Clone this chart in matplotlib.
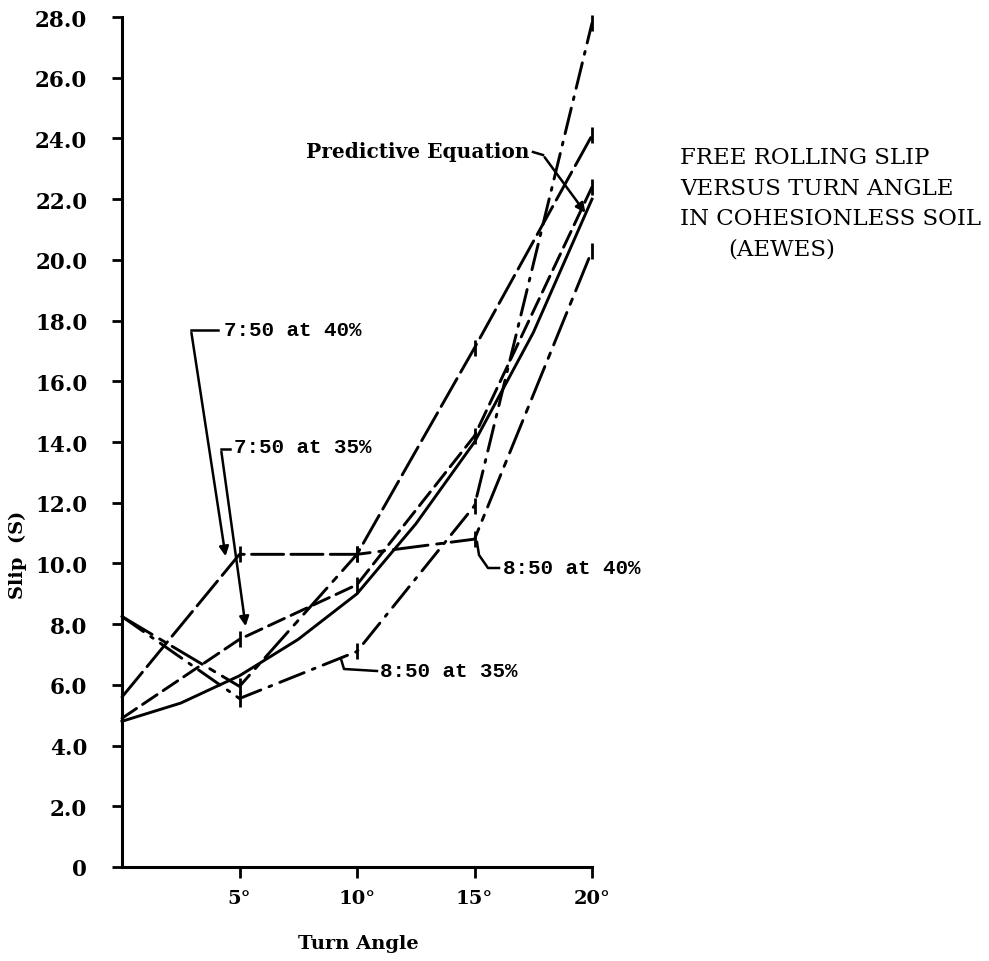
import matplotlib
matplotlib.use("Agg")
import matplotlib.pyplot as plt

# ---- data ----
turn_angle = [0, 5, 10, 15, 20]
slip_750_40 = [5.6, 10.3, 10.3, 17.1, 24.1]
slip_750_35 = [4.9, 7.5, 9.3, 14.2, 22.4]
slip_850_40 = [8.25, 5.95, 10.3, 10.8, 20.3]
slip_850_35 = [8.25, 5.55, 7.1, 11.9, 27.8]
pred_angle = [0, 2.5, 5, 7.5, 10, 12.5, 15, 17.5, 20]
pred_slip = [4.8, 5.4, 6.3, 7.5, 9.0, 11.3, 14.0, 17.6, 22.0]

y_ticks = [0, 2, 4, 6, 8, 10, 12, 14, 16, 18, 20, 22, 24, 26, 28]
y_tick_labels = ["0", "2.0", "4.0", "6.0", "8.0", "10.0", "12.0", "14.0",
                 "16.0", "18.0", "20.0", "22.0", "24.0", "26.0", "28.0"]
x_ticks = [5, 10, 15, 20]
x_tick_labels = ["5°", "10°", "15°", "20°"]

title_lines = ["FREE ROLLING SLIP", "VERSUS TURN ANGLE",
               "IN COHESIONLESS SOIL", "(AEWES)"]

# ---- figure ----
W, H = 989, 962
fig = plt.figure(figsize=(W / 100, H / 100), dpi=100)
ax = fig.add_axes([122 / W, 1 - 868 / H, 470 / W, 850 / H])
ax.set_xlim(0, 20)
ax.set_ylim(0, 28)

for s in ["top", "right"]:
    ax.spines[s].set_visible(False)
for s in ["left", "bottom"]:
    ax.spines[s].set_linewidth(2.2)

tick_font = dict(family="DejaVu Serif", weight="bold", size=15.5)
ax.set_yticks(y_ticks)
ax.set_yticklabels(y_tick_labels, fontdict=tick_font)
ax.set_xticks(x_ticks)
ax.set_xticklabels(x_tick_labels, fontdict=dict(family="DejaVu Serif", weight="bold", size=14))
ax.tick_params(axis="y", direction="out", length=7, width=2, pad=18)
ax.tick_params(axis="x", direction="out", length=8, width=2, pad=8)

common = dict(color="black", lw=2.1, marker="|", markersize=12, mew=2.0,
              markevery=[1, 2, 3, 4], clip_on=False, solid_capstyle="round",
              dash_capstyle="round")

ax.plot(turn_angle, slip_750_40, dashes=(11, 2.5), **common)
ax.plot(turn_angle, slip_750_35, dashes=(6, 2.5), **common)
ax.plot(turn_angle, slip_850_40, dashes=(12, 3, 2, 3), **common)
ax.plot(turn_angle, slip_850_35, dashes=(9, 3, 1, 3), **common)
ax.plot(pred_angle, pred_slip, color="black", lw=2.1, clip_on=False)


def px(x, y):
    """pixel position in the reference -> data coordinates"""
    return ((x - 122) / 23.5, (868 - y) / 30.357)


lab_font = dict(family="Liberation Mono", weight="bold", size=15)
arrow = dict(arrowstyle="-|>", color="black", lw=1.8, mutation_scale=14)

# 7:50 at 40%
ax.text(*px(224, 331), "7:50 at 40%", ha="left", va="center", **lab_font)
ax.plot(*zip(px(191, 331), px(218, 331)), color="black", lw=1.8)
ax.annotate("", xy=px(226, 560), xytext=px(191, 331), arrowprops=arrow)

# 7:50 at 35%
ax.text(*px(234, 448), "7:50 at 35%", ha="left", va="center", **lab_font)
ax.plot(*zip(px(221, 450), px(230, 450)), color="black", lw=1.8)
ax.annotate("", xy=px(246, 630), xytext=px(221, 450), arrowprops=arrow)

# 8:50 at 40%
ax.text(*px(503, 569), "8:50 at 40%", ha="left", va="center", **lab_font)
ax.plot(*zip(px(499, 569), px(488, 569), px(479, 556), px(477, 543)),
        color="black", lw=1.8)

# 8:50 at 35%
ax.text(*px(380, 672), "8:50 at 35%", ha="left", va="center", **lab_font)
ax.plot(*zip(px(377, 672), px(344, 670), px(341, 660)), color="black", lw=1.8)

# Predictive Equation
ax.text(*px(530, 152), "Predictive Equation", ha="right", va="center",
        family="DejaVu Serif", weight="bold", size=14.5)
ax.plot(*zip(px(533, 153), px(543, 156)), color="black", lw=1.8)
ax.annotate("", xy=px(587, 216), xytext=px(543, 156), arrowprops=arrow)

# axis labels
fig.text(18 / W, 1 - 555 / H, "Slip  (S)", rotation=90, ha="center", va="center",
         family="DejaVu Serif", weight="bold", size=14)
fig.text(358 / W, 1 - 944 / H, "Turn Angle", ha="center", va="center",
         family="DejaVu Serif", weight="bold", size=14)

# title block
title_font = dict(family="DejaVu Serif", size=16.5)
fig.text(680 / W, 1 - 158 / H, title_lines[0], ha="left", va="center", **title_font)
fig.text(680 / W, 1 - 189 / H, title_lines[1], ha="left", va="center", **title_font)
fig.text(680 / W, 1 - 219 / H, title_lines[2], ha="left", va="center", **title_font)
fig.text(728 / W, 1 - 250 / H, title_lines[3], ha="left", va="center", **title_font)

fig.savefig("out.png", dpi=100, facecolor="white")
